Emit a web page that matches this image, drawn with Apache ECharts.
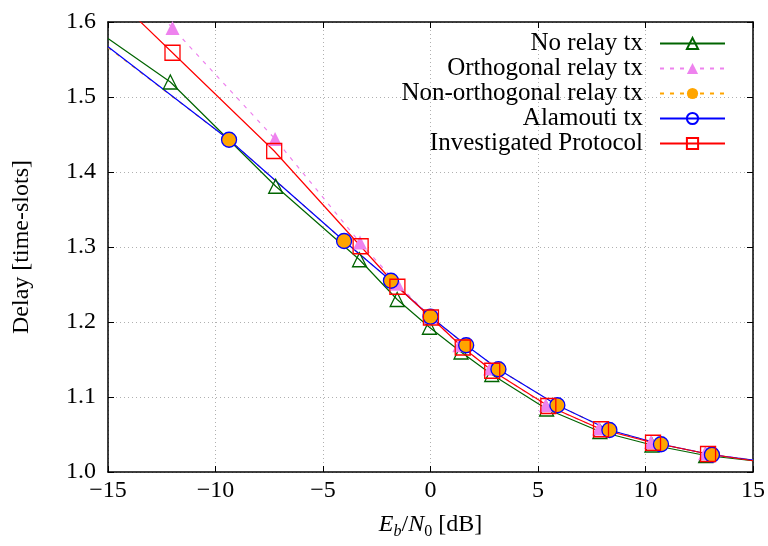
<!DOCTYPE html>
<html>
<head>
<meta charset="utf-8">
<script src="https://cdn.jsdelivr.net/npm/echarts@6/dist/echarts.min.js"></script>
<style>
html, body { margin: 0; padding: 0; background: #fff; }
#chart { width: 768px; height: 546px; }
</style>
</head>
<body>
<div id="chart"></div>
<script>
// values; first and last point of each curve carry no marker
var noRelayX = [-15, -12.1, -7.2, -3.3, -1.55, -0.05, 1.42, 2.85, 5.4, 7.88, 10.3, 12.8, 15];
var noRelayY = [1.578, 1.520, 1.381, 1.283, 1.230, 1.193, 1.160, 1.130, 1.084, 1.054, 1.036, 1.022, 1.015];

var orthoX = [-15, -12.0, -7.23, -3.28, -1.55, 0.0, 1.34, 2.77, 5.36, 7.84, 10.26, 12.77, 15];
var orthoY = [1.685, 1.592, 1.444, 1.306, 1.251, 1.207, 1.169, 1.138, 1.089, 1.058, 1.040, 1.025, 1.016];

var nonOrthoX = [-15, -9.37, -4.02, -1.84, 0.0, 1.66, 3.16, 5.9, 8.32, 10.72, 13.09, 15];
var nonOrthoY = [1.566, 1.443, 1.308, 1.255, 1.207, 1.169, 1.137, 1.089, 1.056, 1.037, 1.023, 1.016];

var alamoutiX = [-15, -9.37, -4.02, -1.84, 0.0, 1.66, 3.16, 5.9, 8.32, 10.72, 13.09, 15];
var alamoutiY = [1.567, 1.443, 1.308, 1.255, 1.207, 1.169, 1.137, 1.089, 1.056, 1.037, 1.023, 1.016];

var protoX = [-15, -12.0, -7.27, -3.25, -1.54, 0.02, 1.5, 2.87, 5.48, 7.93, 10.35, 12.91, 15];
var protoY = [1.642, 1.559, 1.428, 1.301, 1.247, 1.206, 1.166, 1.135, 1.088, 1.057, 1.039, 1.024, 1.015];

var seriesNames = ['No relay tx', 'Orthogonal relay tx', 'Non-orthogonal relay tx', 'Alamouti tx', 'Investigated Protocol'];

var FONT = 'Liberation Serif';
var FS = 24;

function toData(xs, ys) {
    return xs.map(function (x, i) {
        var item = { value: [x, ys[i]] };
        if (i === 0 || i === xs.length - 1) item.symbol = 'none';
        return item;
    });
}

function lineSeries(name, xs, ys, color, dashed, symbol, size, filled) {
    return {
        name: name,
        type: 'line',
        data: toData(xs, ys),
        symbol: symbol,
        symbolSize: size,
        showAllSymbol: true,
        clip: true,
        lineStyle: { color: color, width: 1.2, type: dashed ? [4, 6] : 'solid' },
        itemStyle: filled
            ? { color: color, borderWidth: 0 }
            : { color: 'rgba(0,0,0,0)', borderColor: color, borderWidth: 1.3 },
        emphasis: { disabled: true }
    };
}

var chart = echarts.init(document.getElementById('chart'));

var gridLine = { show: true, lineStyle: { color: '#b0b0b0', width: 1, type: [1, 3] } };
var frameLine = { show: true, onZero: false, lineStyle: { color: '#000', width: 1.5 } };
var tick = { show: true, inside: true, length: 6, lineStyle: { color: '#000', width: 1 } };

chart.setOption({
    backgroundColor: '#fff',
    animation: false,
    grid: { left: 108, right: 15, top: 22, bottom: 74, containLabel: false },
    legend: {
        orient: 'vertical',
        align: 'right',
        right: 37,
        top: 26,
        itemWidth: 65,
        itemHeight: 14,
        itemGap: 0,
        data: seriesNames,
        textStyle: { fontFamily: FONT, fontSize: 25, lineHeight: 24.5, color: '#000', padding: [0, 12, 0, 0] }
    },
    xAxis: [{
        type: 'value',
        min: -15,
        max: 15,
        interval: 5,
        axisLine: frameLine,
        axisTick: tick,
        splitLine: gridLine,
        axisLabel: {
            margin: 7,
            fontFamily: FONT,
            fontSize: FS,
            color: '#000',
            formatter: function (v) { return v < 0 ? '\u2212' + (-v) : String(v); }
        },
        name: '{i|E}{s|b}{n|/}{i|N}{z|0}{n| [dB]}',
        nameLocation: 'middle',
        nameGap: 38,
        nameTextStyle: {
            rich: {
                i: { fontFamily: FONT, fontSize: FS, fontStyle: 'italic', color: '#000', lineHeight: 30, verticalAlign: 'middle' },
                n: { fontFamily: FONT, fontSize: FS, color: '#000', lineHeight: 30, verticalAlign: 'middle' },
                s: { fontFamily: FONT, fontSize: 16, fontStyle: 'italic', color: '#000', lineHeight: 17, verticalAlign: 'bottom' },
                z: { fontFamily: FONT, fontSize: 16, color: '#000', lineHeight: 17, verticalAlign: 'bottom' }
            }
        }
    }, {
        type: 'value',
        position: 'top',
        min: -15,
        max: 15,
        interval: 5,
        axisLine: frameLine,
        axisTick: tick,
        splitLine: { show: false },
        axisLabel: { show: false }
    }],
    yAxis: [{
        type: 'value',
        min: 1.0,
        max: 1.6,
        interval: 0.1,
        axisLine: frameLine,
        axisTick: tick,
        splitLine: gridLine,
        axisLabel: {
            margin: 12,
            fontFamily: FONT,
            fontSize: FS,
            color: '#000',
            formatter: function (v) { return v.toFixed(1); }
        },
        name: 'Delay [time-slots]',
        nameLocation: 'middle',
        nameGap: 74,
        nameTextStyle: { fontFamily: FONT, fontSize: FS, color: '#000' }
    }, {
        type: 'value',
        position: 'right',
        min: 1.0,
        max: 1.6,
        interval: 0.1,
        axisLine: frameLine,
        axisTick: tick,
        splitLine: { show: false },
        axisLabel: { show: false }
    }],
    series: [
        lineSeries(seriesNames[0], noRelayX, noRelayY, '#006400', false, 'triangle', 14, false),
        lineSeries(seriesNames[1], orthoX, orthoY, '#ee82ee', true, 'triangle', 14, true),
        lineSeries(seriesNames[2], nonOrthoX, nonOrthoY, '#ffa500', true, 'circle', 15, true),
        lineSeries(seriesNames[3], alamoutiX, alamoutiY, '#0000ff', false, 'circle', 15, false),
        lineSeries(seriesNames[4], protoX, protoY, '#ff0000', false, 'rect', 15, false)
    ]
});
</script>
</body>
</html>
